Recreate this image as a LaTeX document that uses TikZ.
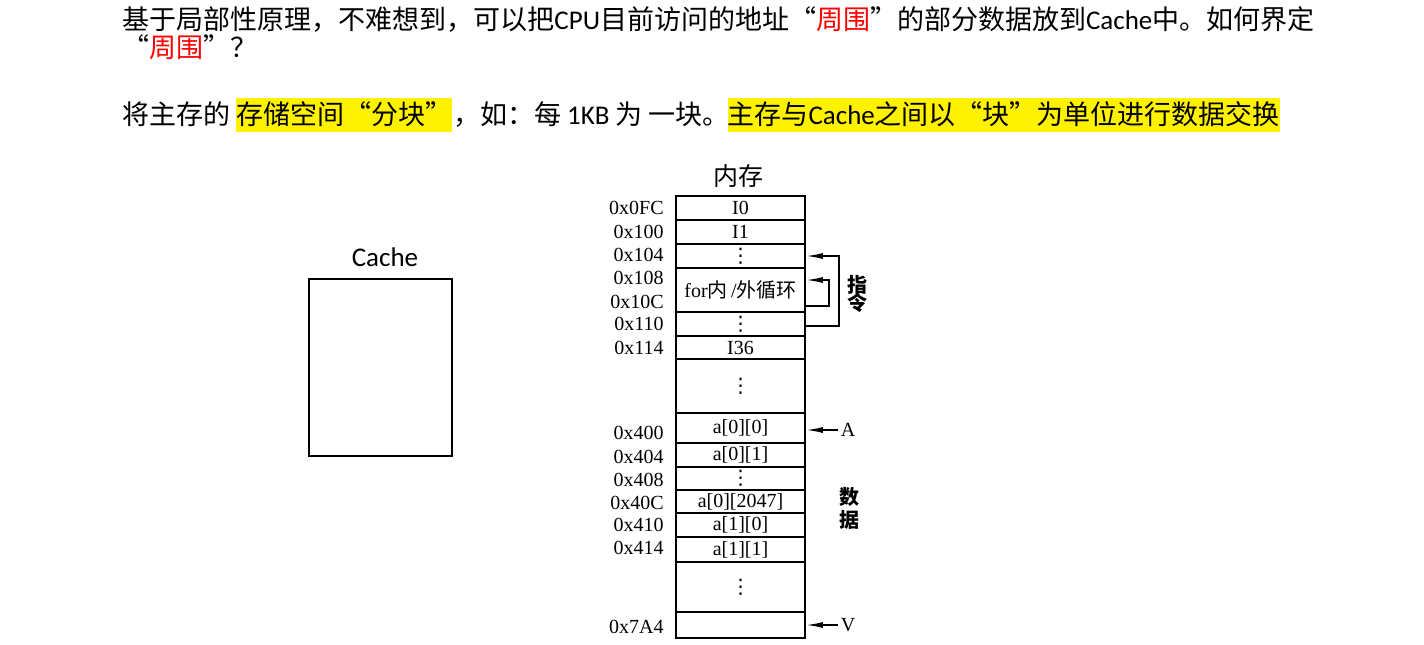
\documentclass[tikz,border=0pt]{standalone}
\usepackage{fontspec}
\setmainfont{Carlito}
\newfontfamily\cjk{Noto Sans CJK SC}[RawFeature=+fwid]
\newfontfamily\tms{Liberation Serif}
\newfontfamily\dvs{DejaVu Sans}
\usetikzlibrary{arrows.meta,calc}
\newcommand\vdotsx{{\dvs\fontsize{10pt}{12pt}\selectfont ⋮}}
\begin{document}
\begin{tikzpicture}[x=0.5pt,y=-0.5pt,
  txt/.style={anchor=base west, inner sep=0pt, text height=13pt, text depth=4pt, font=\fontsize{13.5pt}{16pt}\selectfont},
  hl/.style={txt, fill=yellow},
  row/.style={draw, line width=0.85pt, minimum width=64.5pt, inner sep=0pt, font=\tms\fontsize{10pt}{12pt}\selectfont},
  addr/.style={anchor=east, inner sep=0pt, font=\tms\fontsize{10pt}{12pt}\selectfont},
  side/.style={inner sep=0pt, font=\cjk\bfseries\fontsize{10pt}{12pt}\selectfont},
  arr/.style={line width=0.85pt, -{Latex[length=8.5pt,width=3pt]}}]
\useasboundingbox (0,0) rectangle (1424,644);

% text lines
\node[txt] (l1) at (122,29) {{\cjk 基于局部性原理，不难想到，可以把}CPU{\cjk 目前访问的地址“\textcolor{red}{周围}”的部分数据放到}Cache{\cjk 中。如何界定}};
\node[txt] (l2) at (122,57) {{\cjk “\textcolor{red}{周围}”？}};
\node[txt] (t3a) at (122,124) {{\cjk 将主存的}};
\node[hl] (t3b) at ([xshift=2.5pt]t3a.base east) {\cjk 存储空间“分块”};
\node[txt, at=(t3b.base east)] (t3c) {{\cjk ，如：每} 1KB {\cjk 为} {\cjk 一块。}};
\node[hl] (t3d) at ([xshift=-1.5pt]t3c.base east) {{\cjk 主存与}Cache{\cjk 之间以“块”为单位进行数据交换}};

% cache
\node[inner sep=0pt, font=\fontsize{13.5pt}{16pt}\selectfont] (ct) at (385,257) {Cache};
\node[draw, line width=0.6pt, minimum width=71.5pt, minimum height=88.5pt, inner sep=0pt] (cache) at (380.5,367.5) {};

% memory title
\node[inner sep=0pt, font=\cjk\fontsize{12.5pt}{15pt}\selectfont] (mt) at (738,176) {内存};

% rows
\node[row, minimum height=12pt]   (r1)  at (740.5,208)   {I0};
\node[row, minimum height=12pt]   (r2)  at (740.5,232)   {I1};
\node[row, minimum height=12pt]   (r3)  at (740.5,256)   {\vdotsx};
\node[row, minimum height=22pt]   (r4)  at (740.5,290)   {for{\cjk 内}\,/{\cjk 外循环}};
\node[row, minimum height=12pt]   (r5)  at (740.5,324)   {\vdotsx};
\node[row, minimum height=11.5pt] (r6)  at (740.5,347.5) {I36};
\node[row, minimum height=27pt]   (r7)  at (740.5,386)   {\vdotsx};
\node[row, minimum height=15pt]   (r8)  at (740.5,428)   {a[0][0]};
\node[row, minimum height=12pt]   (r9)  at (740.5,455)   {a[0][1]};
\node[row, minimum height=11.5pt] (r10) at (740.5,478.5) {\vdotsx};
\node[row, minimum height=11.5pt] (r11) at (740.5,501.5) {a[0][2047]};
\node[row, minimum height=12pt]   (r12) at (740.5,525)   {a[1][0]};
\node[row, minimum height=12.5pt] (r13) at (740.5,549.5) {a[1][1]};
\node[row, minimum height=25pt]   (r14) at (740.5,587)   {\vdotsx};
\node[row, minimum height=13pt]   (r15) at (740.5,625)   {};

% addresses
\node[addr] (d1)  at (664,208) {0x0FC};
\node[addr] (d2)  at (664,232) {0x100};
\node[addr] (d3)  at (664,255) {0x104};
\node[addr] (d4)  at (664,278) {0x108};
\node[addr] (d5)  at (664,302) {0x10C};
\node[addr] (d6)  at (664,324) {0x110};
\node[addr] (d7)  at (664,348) {0x114};
\node[addr] (d8)  at (664,433) {0x400};
\node[addr] (d9)  at (664,457) {0x404};
\node[addr] (d10) at (664,480) {0x408};
\node[addr] (d11) at (664,503) {0x40C};
\node[addr] (d12) at (664,525) {0x410};
\node[addr] (d13) at (664,548) {0x414};
\node[addr] (d14) at (664,627) {0x7A4};

% loops
\draw[arr] ($(r5.east)+(0,2)$) -- ++(33,0) |- (r3.east);
\draw[arr] ($(r4.east)+(0,16)$) -- ++(23,0) |- ($(r4.east)+(0,-10)$);
\node[side] (z1) at (857,285) {指};
\node[side] (z2) at (857,303) {令};

% A, V
\node[inner sep=0pt, font=\tms\fontsize{10pt}{12pt}\selectfont] (lA) at (848,430) {A};
\node[inner sep=0pt, font=\tms\fontsize{10pt}{12pt}\selectfont] (lV) at (848,625) {V};
\draw[arr] ($(lA.west)+(-2,0)$) -- (r8.east |- lA);
\draw[arr] ($(lV.west)+(-2,0)$) -- (r15.east |- lV);

% data
\node[side] (s1) at (849,497) {数};
\node[side] (s2) at (849,520) {据};
\end{tikzpicture}
\end{document}
